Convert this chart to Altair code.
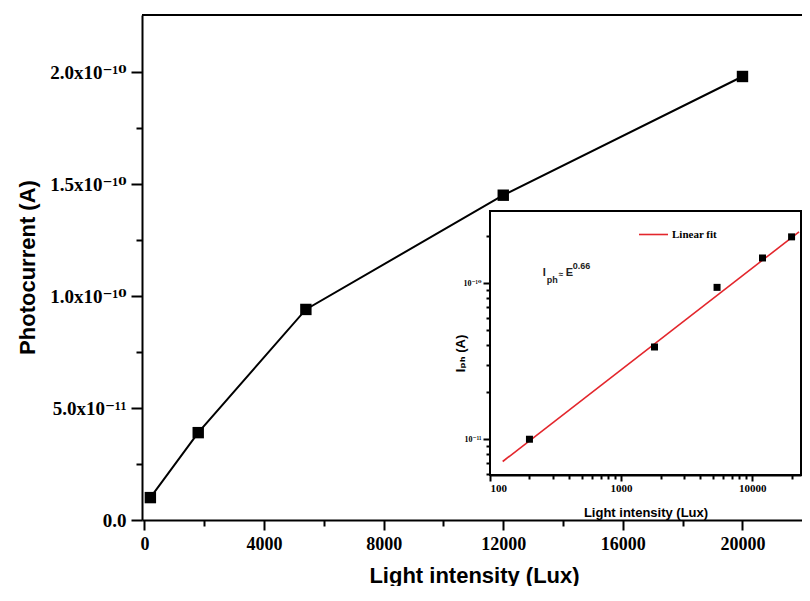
import altair as alt
import pandas as pd

# ---------------- data ----------------
lux = [200, 1800, 5400, 12000, 20000]
photocurrent = [1.0e-11, 3.9e-11, 9.4e-11, 1.45e-10, 1.98e-10]

fit_lux = [125, 22800]
fit_iph = [7.2e-12, 2.13e-10]
fit_name = ["Linear fit", "Linear fit"]

x_ticks = [0, 2000, 4000, 6000, 8000, 10000, 12000, 14000, 16000, 18000, 20000]
x_major = [0, 4000, 8000, 12000, 16000, 20000]
y_ticks = [0, 2.5e-11, 5e-11, 7.5e-11, 1e-10, 1.25e-10, 1.5e-10, 1.75e-10, 2e-10]
y_major_vals = [0, 5e-11, 1e-10, 1.5e-10, 2e-10]
y_major_labels = ["0.0", "5.0x10\u207b\u00b9\u00b9", "1.0x10\u207b\u00b9\u2070",
                  "1.5x10\u207b\u00b9\u2070", "2.0x10\u207b\u00b9\u2070"]

inset_x_ticks = [100, 200, 300, 400, 500, 600, 700, 800, 900,
                 1000, 2000, 3000, 4000, 5000, 6000, 7000, 8000, 9000, 10000, 20000]
inset_x_major = [100, 1000, 10000]
inset_y_ticks = [6e-12, 7e-12, 8e-12, 9e-12, 1e-11, 2e-11, 3e-11, 4e-11, 5e-11,
                 6e-11, 7e-11, 8e-11, 9e-11, 1e-10, 2e-10]
inset_y_major_exp = [-11, -10]
inset_y_labels = ["10\u207b\u00b9\u00b9", "10\u207b\u00b9\u2070"]

annot_lux = 253
annot_iph = 1.16e-10
annot_text = ["I", "ph", "\u2248", "E", "0.66"]
annot_dx = [0, 4, 16, 23, 30]
annot_dy = [0, 7, 2, 0, -7]
annot_size = [11, 9, 8, 11, 9]

# ---------------- layout ----------------
W, H = 660, 505
main_x_domain = [-80, 21990]
main_y_domain = [0, 2.2545e-10]
inset_x_domain = [100, 23600]
inset_y_domain = [5.9e-12, 2.9e-10]
inset_x_range = [348, 659]
inset_y_range = [460, 196]

df_main = pd.DataFrame({"lux": lux, "iph": photocurrent})
df_fit = pd.DataFrame({"lux": fit_lux, "iph": fit_iph, "name": fit_name})
df_frame = pd.DataFrame({"lux": [inset_x_domain[0]], "lux2": [inset_x_domain[1]],
                         "iph": [inset_y_domain[0]], "iph2": [inset_y_domain[1]]})

SERIF = "Liberation Serif, DejaVu Serif"
SANS = "Liberation Sans, DejaVu Sans"

common_axis = dict(domainColor="black", domainWidth=2, tickColor="black", tickWidth=2,
                   labelColor="black", labelFont=SERIF, labelFontWeight="bold",
                   titleColor="black", titleFont=SANS, titleFontWeight="bold", grid=False)

y_expr = " : ".join(
    f"round(datum.value*1e12) == {round(v*1e12)} ? '{l}'" for v, l in zip(y_major_vals, y_major_labels)
) + " : ''"
x_expr = f"indexof({x_major}, datum.value) >= 0 ? datum.label : ''"

main_x_axis = alt.Axis(values=x_ticks, format="d", labelExpr=x_expr,
                       tickSize={"condition": {"test": "datum.value % 4000 === 0", "value": 10}, "value": 6},
                       labelFontSize=18, labelPadding=5, title="Light intensity (Lux)",
                       titleFontSize=22, titleX=332, titleY=55, titleBaseline="middle",
                       orient="bottom", **common_axis)
main_y_axis = alt.Axis(values=y_ticks, labelExpr=y_expr,
                       tickSize={"condition": {"test": "round(datum.value*1e12) % 50 === 0", "value": 11}, "value": 6},
                       labelFontSize=19, labelPadding=5, title="Photocurrent (A)",
                       titleFontSize=22, titleX=-115, titleY=252, titleAngle=270,
                       titleAlign="center", titleBaseline="middle", orient="left", **common_axis)

mx = alt.X("lux:Q", scale=alt.Scale(domain=main_x_domain, nice=False, zero=False), axis=main_x_axis)
my = alt.Y("iph:Q", scale=alt.Scale(domain=main_y_domain, nice=False, zero=False), axis=main_y_axis)

main_line = alt.Chart(df_main).mark_line(color="black", strokeWidth=2).encode(x=mx, y=my)
main_pts = alt.Chart(df_main).mark_square(color="black", opacity=1, size=130).encode(x=mx, y=my)
top_rule = alt.Chart(df_main).mark_rule(color="black", strokeWidth=2).encode(
    x=alt.value(0), x2=alt.value(W), y=alt.value(0))
main = alt.layer(main_line, main_pts, top_rule)

# ---------------- inset ----------------
iy_test = "abs(log(datum.value)/LN10 - round(log(datum.value)/LN10)) < 0.001"
iy_expr = " : ".join(
    f"abs(log(datum.value)/LN10 - ({e})) < 0.001 ? '{l}'" for e, l in zip(inset_y_major_exp, inset_y_labels)
) + " : ''"
ix_expr = f"indexof({inset_x_major}, datum.value) >= 0 ? datum.label : ''"

inset_x_axis = alt.Axis(values=inset_x_ticks, format="d", labelExpr=ix_expr,
                        tickSize={"condition": {"test": f"indexof({inset_x_major}, datum.value) >= 0", "value": 6}, "value": 4},
                        labelFontSize=11, labelPadding=1, title="Light intensity (Lux)",
                        titleFontSize=13, titleY=37, titleBaseline="middle",
                        orient="bottom", offset=-(H - inset_y_range[0]), **common_axis)
inset_y_axis = alt.Axis(values=inset_y_ticks, labelExpr=iy_expr,
                        tickSize={"condition": {"test": iy_test, "value": 7}, "value": 4},
                        labelFontSize=8, labelPadding=2, title="I\u209a\u2095 (A)",
                        titleFontSize=13, titleX=-30, titleY=338, titleAngle=270,
                        titleAlign="center", titleBaseline="middle",
                        orient="left", offset=-inset_x_range[0], **common_axis)

ix = alt.X("lux:Q", scale=alt.Scale(type="log", domain=inset_x_domain, range=inset_x_range, nice=False),
           axis=inset_x_axis)
iy = alt.Y("iph:Q", scale=alt.Scale(type="log", domain=inset_y_domain, range=inset_y_range, nice=False),
           axis=inset_y_axis)

frame = alt.Chart(df_frame).mark_rect(fill="white", stroke="black", strokeWidth=2).encode(
    x=ix, x2="lux2:Q", y=iy, y2="iph2:Q")
fit = alt.Chart(df_fit).mark_line(strokeWidth=1.6).encode(
    x=ix, y=iy,
    color=alt.Color("name:N", scale=alt.Scale(range=["#e3262c"]),
                    legend=alt.Legend(title=None, orient="none", legendX=496, legendY=204,
                                      symbolType="stroke", symbolSize=841, symbolStrokeWidth=1.6,
                                      labelFont=SERIF, labelFontWeight="bold", labelFontSize=11,
                                      labelColor="black", labelOffset=3, padding=0)))
inset_pts = alt.Chart(df_main).mark_square(color="black", opacity=1, size=49).encode(x=ix, y=iy)

annots = []
df_annot = pd.DataFrame({"lux": [annot_lux], "iph": [annot_iph]})
for t, dx, dy, s in zip(annot_text, annot_dx, annot_dy, annot_size):
    annots.append(alt.Chart(df_annot).mark_text(text=t, dx=dx, dy=dy, fontSize=s, font=SANS,
                                                fontWeight="bold", align="left", baseline="middle",
                                                color="#222").encode(x=ix, y=iy))

inset = alt.layer(frame, fit, inset_pts, *annots)

chart = alt.layer(main, inset).resolve_scale(x="independent", y="independent", color="independent").properties(
    width=W, height=H,
    autosize=alt.AutoSizeParams(type="none"),
    padding={"left": 134, "top": 7, "right": 0, "bottom": 66},
).configure_view(stroke=None)

chart.save("out.html", embed_options={"renderer": "svg", "actions": False})
